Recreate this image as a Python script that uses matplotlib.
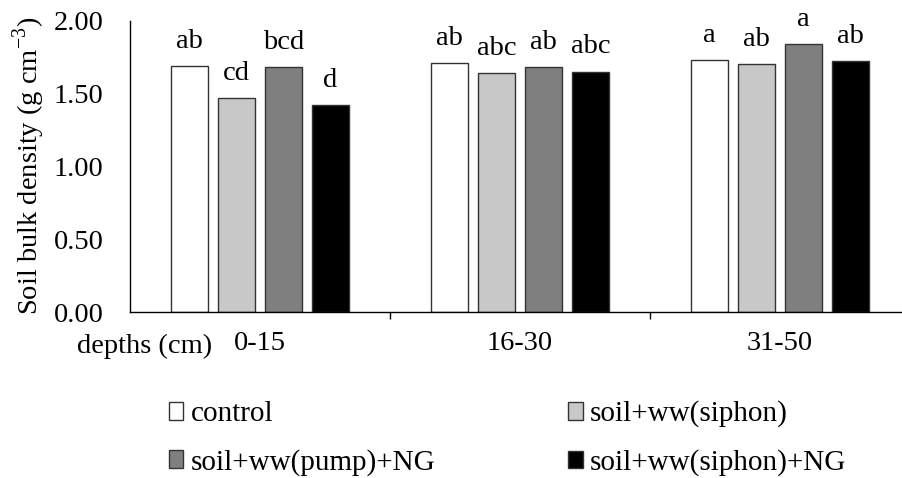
import numpy as np
import matplotlib
matplotlib.use("Agg")
import matplotlib.pyplot as plt

# =========================
# Datos
# =========================
profundidades = ["0-15", "16-30", "31-50"]
tratamientos = ["control", "soil+ww(siphon)", "soil+ww(pump)+NG", "soil+ww(siphon)+NG"]

control = [1.69, 1.71, 1.73]
siphon = [1.47, 1.64, 1.70]
pump_ng = [1.68, 1.68, 1.84]
siphon_ng = [1.42, 1.65, 1.72]

letras_control = ["ab", "ab", "a"]
letras_siphon = ["cd", "abc", "ab"]
letras_pump_ng = ["bcd", "ab", "a"]
letras_siphon_ng = ["d", "abc", "ab"]

colores = ["white", "#c8c8c8", "#7f7f7f", "black"]

# =========================
# Figura
# =========================
plt.rcParams['font.family'] = ['Liberation Serif', 'DejaVu Serif']
plt.rcParams['font.size'] = 20.5
plt.rcParams['mathtext.fontset'] = 'custom'
plt.rcParams['mathtext.rm'] = 'Liberation Serif'

fig = plt.figure(figsize=(9.03, 4.78), dpi=100)
ax = fig.add_axes([130 / 903, 166 / 478, 780 / 903, 291.5 / 478])

x = np.arange(len(profundidades))
ancho = 0.144
paso = 0.181
series = [control, siphon, pump_ng, siphon_ng]
letras = [letras_control, letras_siphon, letras_pump_ng, letras_siphon_ng]

barras = []
for i, (valores, color, nombre, etiquetas) in enumerate(zip(series, colores, tratamientos, letras)):
    pos = x + (i - 1.5) * paso
    b = ax.bar(pos, valores, width=ancho, color=color, edgecolor="#333333",
               linewidth=1.0, label=nombre)
    barras.append(b)
    for xb, v, t in zip(pos, valores, etiquetas):
        ax.annotate(t, (xb, v), xytext=(0, 13), textcoords="offset points",
                    ha="center", va="baseline")

ax.set_xlim(-0.5, 2.5)
ax.set_ylim(0, 2.0)
ax.set_yticks([0, 0.5, 1.0, 1.5, 2.0])
ax.set_yticklabels([f"{v:.2f}" for v in [0, 0.5, 1.0, 1.5, 2.0]])
ax.set_yticks([2.0], minor=True)
ax.set_xticks(x)
ax.set_xticklabels(profundidades)
ax.set_xticks([0.5, 1.5], minor=True)

ax.tick_params(axis="y", which="major", length=0, pad=19)
ax.tick_params(axis="y", which="minor", direction="in", length=5, width=1)
ax.tick_params(axis="x", which="major", length=0, pad=14)
ax.tick_params(axis="x", which="minor", direction="out", length=5, width=1)

for lado in ["top", "right"]:
    ax.spines[lado].set_visible(False)
ax.spines["left"].set_linewidth(1)
ax.spines["bottom"].set_linewidth(1)

ax.set_ylabel("Soil bulk density (g cm$^{\\mathregular{-3}}$)", labelpad=5)
fig.text(77 / 903, 1 - 353 / 478, "depths (cm)", ha="left", va="baseline")

# orden por filas como en la figura original
orden = [0, 2, 1, 3]
fig.legend([barras[k] for k in orden], [tratamientos[k] for k in orden],
           loc="center", bbox_to_anchor=(0.562, 0.083), ncol=2, frameon=False,
           handlelength=0.5, handleheight=0.55, handletextpad=0.25,
           columnspacing=4.55, labelspacing=0.75, fontsize=21)

plt.savefig("out.png", dpi=100)
plt.close()
